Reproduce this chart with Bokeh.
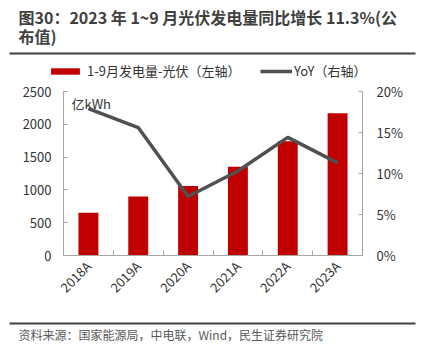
import math
from bokeh.plotting import figure
from bokeh.layouts import column
from bokeh.models import (Range1d, LinearAxis, FixedTicker, NumeralTickFormatter,
                          Label, BoxAnnotation, Legend, LegendItem, ColumnDataSource)
from bokeh.embed import file_html
from bokeh.resources import INLINE

# ---- data ----
years = ["2018A", "2019A", "2020A", "2021A", "2022A", "2023A"]
generation = [651, 898, 1061, 1353, 1742, 2167]          # 亿kWh, left axis
yoy = [0.179, 0.156, 0.072, 0.103, 0.144, 0.113]          # right axis
left_ticks = [0, 500, 1000, 1500, 2000, 2500]
right_ticks = [0, 0.05, 0.10, 0.15, 0.20]

title_line1 = "图30：2023 年 1~9 月光伏发电量同比增长 11.3%(公"
title_line2 = "布值)"
bar_label = "1-9月发电量-光伏（左轴）"
line_label = "YoY（右轴）"
unit_label = "亿kWh"
source_text = "资料来源：国家能源局，中电联，Wind，民生证券研究院"

FONT = "Noto Sans CJK SC"
TXT = "#333333"
AXC = "#a6a6a6"
BAR_C = "#c00000"
LINE_C = "#505050"
W = 424
TOP_H, CHART_H, BOT_H = 80, 235, 49


def blank(h):
    f = figure(width=W, height=h, x_range=Range1d(0, W), y_range=Range1d(h, 0),
               x_axis_type=None, y_axis_type=None, output_backend="svg",
               toolbar_location=None, min_border=0, min_border_left=0, min_border_right=0,
               min_border_top=0, min_border_bottom=0, frame_align=False)
    f.outline_line_color = None
    f.grid.visible = False
    return f


# ---------- header: title, rule, legend ----------
top = blank(TOP_H)
for txt, py in [(title_line1, 16), (title_line2, 35)]:
    top.add_layout(Label(x=18, y=py, text=txt, text_baseline="middle", text_font=FONT,
                         text_font_size="16px", text_font_style="bold", text_color="#404040"))
top.add_layout(BoxAnnotation(left=9, right=415, top=52, bottom=54, fill_color="#404040",
                             fill_alpha=1, line_color=None, editable=False))

# legend proxies (zero-size glyphs, only their legend swatches are seen)
proxy = ColumnDataSource(dict(x=[0], top=[0], y=[0]))
proxy_bar = top.vbar(x="x", top="top", width=0, source=proxy, fill_color=BAR_C, line_color=None)
proxy_line = top.line(x="x", y="y", source=proxy, line_color=LINE_C, line_width=3.5)

leg_common = dict(orientation="horizontal", glyph_height=8, label_height=16, padding=0,
                  margin=0, border_line_color=None, background_fill_alpha=0,
                  label_text_font=FONT, label_text_font_size="13px", label_text_color=TXT)
leg1 = Legend(items=[LegendItem(label=bar_label, renderers=[proxy_bar])],
              location=(47, 0), glyph_width=36, label_standoff=4, **leg_common)
leg2 = Legend(items=[LegendItem(label=line_label, renderers=[proxy_line])],
              location=(260, 0), glyph_width=32, label_standoff=2, **leg_common)
top.add_layout(leg1, "center")
top.add_layout(leg2, "center")

# ---------- chart ----------
idx = list(range(len(years)))
src = ColumnDataSource(dict(x=idx, gen=generation, yoy=yoy))

p = figure(width=W, height=CHART_H, x_range=Range1d(-0.5, len(years) - 0.5),
           y_range=Range1d(left_ticks[0], left_ticks[-1]),
           output_backend="svg", toolbar_location=None, frame_align=False,
           min_border_left=63, min_border_right=62, min_border_top=11, min_border_bottom=60)
p.extra_y_ranges = {"yoy": Range1d(right_ticks[0], right_ticks[-1])}
p.grid.visible = False
p.outline_line_color = None

p.vbar(x="x", top="gen", width=0.4, source=src, fill_color=BAR_C, line_color=None)
p.line(x="x", y="yoy", source=src, y_range_name="yoy", line_color=LINE_C,
       line_width=3.5, line_join="round")

# x axis: labels at category centres, small ticks between categories
xa = p.xaxis[0]
xa.ticker = FixedTicker(ticks=idx, minor_ticks=[i - 0.5 for i in idx] + [idx[-1] + 0.5])
xa.major_label_overrides = {i: y for i, y in zip(idx, years)}
xa.major_label_orientation = math.pi / 4
xa.major_tick_in = 0
xa.major_tick_out = 0
xa.minor_tick_in = 5
xa.minor_tick_out = 0
xa.minor_tick_line_color = AXC
xa.axis_line_color = AXC
xa.major_label_text_font = FONT
xa.major_label_text_font_size = "13px"
xa.major_label_text_color = TXT
xa.major_label_standoff = 8

# left axis
ya = p.yaxis[0]
ya.ticker = FixedTicker(ticks=left_ticks)
ya.major_tick_in = 4
ya.major_tick_out = 0
ya.minor_tick_line_color = None
ya.axis_line_color = AXC
ya.major_tick_line_color = AXC
ya.major_label_text_font = FONT
ya.major_label_text_font_size = "13px"
ya.major_label_text_color = TXT
ya.major_label_standoff = 12

# right axis
ra = LinearAxis(y_range_name="yoy", ticker=FixedTicker(ticks=right_ticks),
                formatter=NumeralTickFormatter(format="0%"))
ra.major_tick_in = 4
ra.major_tick_out = 0
ra.minor_tick_line_color = None
ra.axis_line_color = AXC
ra.major_tick_line_color = AXC
ra.major_label_text_font = FONT
ra.major_label_text_font_size = "13px"
ra.major_label_text_color = TXT
ra.major_label_standoff = 14
p.add_layout(ra, "right")

p.add_layout(Label(x=-0.5, y=left_ticks[-1], x_offset=8, y_offset=-2, text=unit_label,
                   text_baseline="top", text_font=FONT, text_font_size="13px", text_color=TXT))

# ---------- footer ----------
bot = blank(BOT_H)
bot.add_layout(BoxAnnotation(left=9, right=415, top=7, bottom=9, fill_color="#404040",
                             fill_alpha=1, line_color=None, editable=False))
bot.add_layout(Label(x=18, y=19, text=source_text, text_baseline="middle", text_font=FONT,
                     text_font_size="12px", text_color="#595959"))

layout = column(top, p, bot, spacing=0)
open("out.html", "w").write(file_html(layout, INLINE))
